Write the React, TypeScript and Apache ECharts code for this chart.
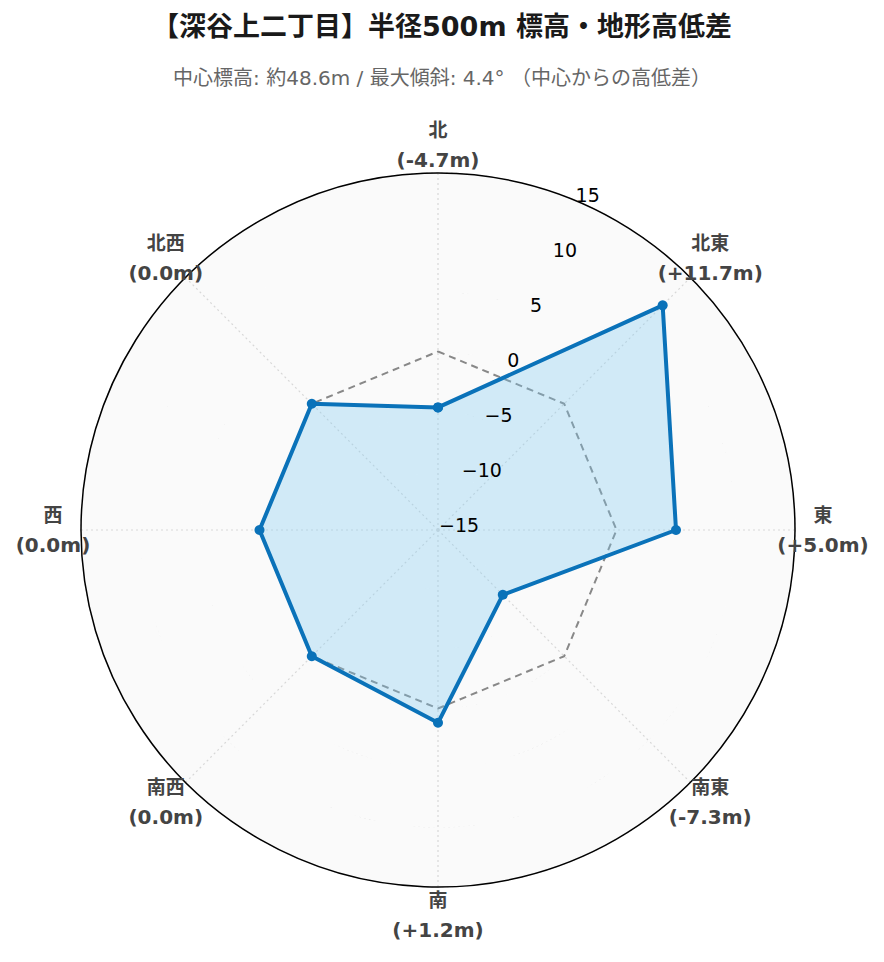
import React, { useEffect, useRef } from 'react';
import * as echarts from 'echarts';

const titleText = '【深谷上二丁目】半径500m 標高・地形高低差';
const subtitleText = '中心標高: 約48.6m / 最大傾斜: 4.4° （中心からの高低差）';
const directions = ['北', '北東', '東', '南東', '南', '南西', '西', '北西'];
const directionAngles = [0, 45, 90, 135, 180, 225, 270, 315];
const elevationDiff = [-4.7, 11.7, 5.0, -7.3, 1.2, 0.0, 0.0, 0.0];
const referenceLevel = [0, 0, 0, 0, 0, 0, 0, 0];
const radialMin = -15;
const radialMax = 15;
const radialStep = 5;

const LATIN = "'DejaVu Sans', 'Noto Sans CJK JP', sans-serif";

const closeLoop = (vals: number[]) => [
  ...vals.map((v, i) => [v, directionAngles[i]]),
  [vals[0], 360],
];
const fmtDiff = (v: number) => (v > 0 ? '+' : '') + v.toFixed(1) + 'm';
const fmtTick = (v: number) => (v < 0 ? '\u2212' + Math.abs(v) : String(v));

export default function App() {
  const ref = useRef<HTMLDivElement>(null);
  useEffect(() => {
    document.body.style.margin = '0';
    if (!ref.current) return;
    const chart = echarts.init(ref.current, null, { renderer: 'svg' });
    const center = [438, 530];
    const R = 357;
    chart.setOption({
      animation: false,
      backgroundColor: '#ffffff',
      title: [
        {
          text: titleText,
          left: 'center',
          top: 8,
          textStyle: { fontSize: 27, fontWeight: 'bold', color: '#1a1a1a', fontFamily: LATIN },
        },
        {
          text: subtitleText,
          left: 'center',
          top: 63,
          textStyle: { fontSize: 20, fontWeight: 'normal', color: '#666', fontFamily: LATIN },
        },
      ],
      polar: [
        { center, radius: R },
        { center, radius: R },
        { center, radius: 385 },
      ],
      angleAxis: [
        {
          polarIndex: 0,
          type: 'value',
          min: 0,
          max: 360,
          interval: 45,
          startAngle: 90,
          clockwise: true,
          axisLine: { show: true, lineStyle: { color: '#000', width: 1.5 } },
          axisTick: { show: false },
          axisLabel: { show: false },
          splitLine: { show: true, lineStyle: { color: '#d8d8d8', width: 1.2, type: [2, 3] } },
        },
        {
          polarIndex: 1,
          type: 'value',
          min: 0,
          max: 360,
          startAngle: 67.5,
          clockwise: true,
          show: false,
        },
        {
          polarIndex: 2,
          type: 'value',
          min: 0,
          max: 360,
          startAngle: 90,
          clockwise: true,
          show: false,
        },
      ],
      radiusAxis: [
        {
          polarIndex: 0,
          type: 'value',
          min: radialMin,
          max: radialMax,
          interval: radialStep,
          axisLine: { show: false },
          axisTick: { show: false },
          axisLabel: { show: false },
          splitLine: { show: true, lineStyle: { color: '#d8d8d8', width: 1.2, type: [2, 3] } },
          splitArea: { show: true, areaStyle: { color: ['#fafafa'] } },
        },
        {
          polarIndex: 1,
          type: 'value',
          min: radialMin,
          max: radialMax,
          interval: radialStep,
          axisLine: { show: false },
          axisTick: { show: false },
          splitLine: { show: false },
          axisLabel: {
            show: true,
            formatter: fmtTick,
            color: '#000',
            fontSize: 19,
            fontFamily: LATIN,
            align: 'left',
            verticalAlign: 'bottom',
            margin: 0,
            padding: [0, 0, -4, 1],
          },
          z: 5,
        },
        {
          polarIndex: 2,
          type: 'value',
          min: 0,
          max: 1,
          show: false,
        },
      ],
      series: [
        {
          type: 'line',
          coordinateSystem: 'polar',
          polarIndex: 0,
          data: closeLoop(referenceLevel),
          symbol: 'none',
          lineStyle: { color: '#888', width: 2, type: [7, 5] },
          z: 2,
          silent: true,
        },
        {
          type: 'line',
          coordinateSystem: 'polar',
          polarIndex: 0,
          data: closeLoop(elevationDiff),
          symbol: 'circle',
          symbolSize: 10,
          itemStyle: { color: '#0a72b9' },
          lineStyle: { color: '#0a72b9', width: 4 },
          areaStyle: { origin: 'start', color: 'rgba(123,203,243,0.32)', opacity: 1 },
          z: 3,
        },
        {
          type: 'scatter',
          coordinateSystem: 'polar',
          polarIndex: 2,
          symbolSize: 1,
          itemStyle: { color: 'rgba(0,0,0,0)', opacity: 1 },
          data: directions.map((d, i) => ({
            name: d,
            value: [1, directionAngles[i]],
          })),
          label: {
            show: true,
            position: 'inside',
            align: 'center',
            verticalAlign: 'middle',
            color: '#444',
            opacity: 1,
            formatter: (p: any) =>
              `{n|${p.name}}\n{v|(${fmtDiff(elevationDiff[p.dataIndex])})}`,
            rich: {
              n: { fontSize: 19, fontWeight: 'bold', color: '#444', fontFamily: LATIN, lineHeight: 30 },
              v: { fontSize: 20, fontWeight: 'bold', color: '#444', fontFamily: LATIN, lineHeight: 30 },
            },
          },
          z: 4,
        },
      ],
    });
    return () => chart.dispose();
  }, []);
  return <div ref={ref} style={{ width: 884, height: 962 }} />;
}
